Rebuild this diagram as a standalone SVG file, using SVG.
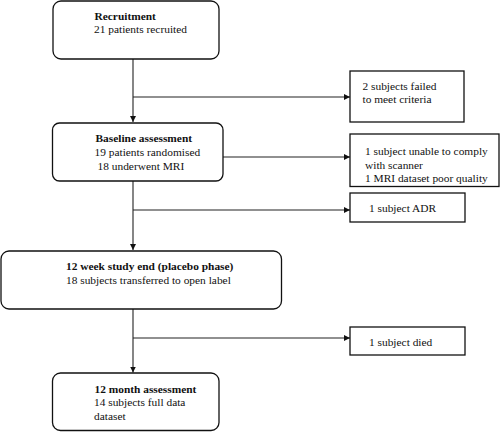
<svg xmlns="http://www.w3.org/2000/svg" width="500" height="432" viewBox="0 0 500 432">
<style>
text{font-family:"Liberation Serif","Times New Roman",serif;font-size:11.4px;fill:#111}
.b{font-weight:bold}
.box{fill:#fff;stroke:#111;stroke-width:1.3}
.ln{fill:none;stroke:#222;stroke-width:1.1}
</style>
<defs>
<marker id="ah" viewBox="0 0 10 10" refX="10" refY="5" markerWidth="6" markerHeight="6" markerUnits="userSpaceOnUse" orient="auto">
<path d="M0,0 L10,5 L0,10 z" fill="#111"/>
</marker>
</defs>
<rect width="500" height="432" fill="#fff"/>
<g id="connectors">
<line class="ln" x1="133" y1="59" x2="133" y2="122" marker-end="url(#ah)"/>
<line class="ln" x1="133" y1="97" x2="350" y2="97" marker-end="url(#ah)"/>
<line class="ln" x1="223" y1="157" x2="350" y2="157" marker-end="url(#ah)"/>
<line class="ln" x1="133" y1="181" x2="133" y2="250" marker-end="url(#ah)"/>
<line class="ln" x1="133" y1="210" x2="350" y2="210" marker-end="url(#ah)"/>
<line class="ln" x1="133" y1="309" x2="133" y2="372.5" marker-end="url(#ah)"/>
<line class="ln" x1="133" y1="338" x2="350" y2="338" marker-end="url(#ah)"/>
</g>
<g id="recruitment">
<rect class="box" x="53" y="1" width="166" height="58" rx="8"/>
<text class="b" x="94.5" y="20">Recruitment</text>
<text x="94" y="33">21 patients recruited</text>
</g>
<g id="failed">
<rect class="box" x="350" y="71" width="114" height="51"/>
<text x="362.5" y="90">2 subjects failed</text>
<text x="362.5" y="103">to meet criteria</text>
</g>
<g id="baseline">
<rect class="box" x="52.5" y="123" width="170.5" height="58" rx="7"/>
<text class="b" x="95.5" y="142">Baseline assessment</text>
<text x="94.5" y="155.5">19 patients randomised</text>
<text x="97.5" y="169.5">18 underwent MRI</text>
</g>
<g id="unable">
<rect class="box" x="350" y="134" width="149" height="52.5"/>
<text x="365" y="155">1 subject unable to comply</text>
<text x="365" y="168.5">with scanner</text>
<text x="365" y="182">1 MRI dataset poor quality</text>
</g>
<g id="adr">
<rect class="box" x="350" y="193" width="115" height="29"/>
<text x="369" y="211.5">1 subject ADR</text>
</g>
<g id="week12">
<rect class="box" x="1" y="251" width="280.5" height="58" rx="8"/>
<text class="b" x="66" y="270">12 week study end (placebo phase)</text>
<text x="66" y="284">18 subjects transferred to open label</text>
</g>
<g id="died">
<rect class="box" x="350" y="327" width="115" height="28"/>
<text x="369" y="345.5">1 subject died</text>
</g>
<g id="month12">
<rect class="box" x="52.5" y="373" width="166.5" height="57.5" rx="8"/>
<text class="b" x="94.5" y="393">12 month assessment</text>
<text x="94" y="406">14 subjects full data</text>
<text x="94" y="420">dataset</text>
</g>
</svg>
